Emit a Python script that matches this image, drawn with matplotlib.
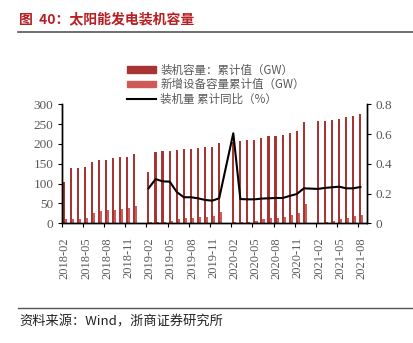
import numpy as np
import pandas as pd
import matplotlib
matplotlib.use("Agg")
import matplotlib.pyplot as plt
from matplotlib.patches import Patch
from matplotlib.lines import Line2D

plt.rcParams['font.family'] = ['Liberation Serif', 'Noto Sans CJK SC']

# months 2018-02 .. 2021-08 (January has no data)
months = [p.strftime('%Y-%m') for p in pd.period_range('2018-02', '2021-08', freq='M')]
nan = np.nan

cum_capacity = [104, 138.5, 140, 142, 154, 159.5, 160, 164, 166, 168, 174.5,
                nan,
                130, 180, 181, 182.5, 185, 187.5, 188.5, 190, 192, 193, 203,
                nan,
                206, 208.5, 209, 211, 216, 219, 220, 223.5, 227.5, 232, 254.5,
                nan,
                257, 259, 260.5, 263, 268, 271.5, 275]
new_capacity = [10, 10, 12, 14, 26, 31, 33, 34, 36, 38, 44,
                nan,
                2.5, 4.5, 4.5, 7, 11, 12.5, 14.5, 16, 17, 18.5, 28,
                nan,
                2, 4, 4, 7, 11.5, 12.6, 14.3, 16.8, 21, 25.2, 48.5,
                nan,
                1.7, 4, 6.7, 10, 14.3, 18.5, 21]
yoy = [nan] * 11 + [nan,
       0.235, 0.297, 0.282, 0.28, 0.21, 0.175, 0.175, 0.168, 0.157, 0.152, 0.168,
       nan,
       0.605, 0.163, 0.161, 0.161, 0.166, 0.168, 0.170, 0.170, 0.184, 0.197, 0.235,
       nan,
       0.231, 0.238, 0.242, 0.246, 0.235, 0.235, 0.244]

labels = ['装机容量：累计值（GW）', '新增设备容量累计值（GW）', '装机量 累计同比（%）']
c_dark = '#A93434'
c_light = '#CC5B59'
gray = '#595959'

fig = plt.figure(figsize=(4.13, 3.43), dpi=100)
ax = fig.add_axes([0.1494, 0.349, 0.7386, 0.347])
ax2 = ax.twinx()

x = np.arange(len(months))
w = 0.3
ax.bar(x + 0.28, cum_capacity, width=w, color=c_dark, linewidth=0)
ax.bar(x + 0.58, new_capacity, width=w, color=c_light, linewidth=0)

yoy_s = pd.Series(yoy, index=x + 0.3).dropna()
ax2.plot(yoy_s.index, yoy_s.values, color='black', lw=1.5)

ax.set_xlim(0, len(months) + 0.2)
ax.set_ylim(0, 300)
ax2.set_ylim(0, 0.8)
ax.set_yticks(range(0, 301, 50))
ax2.set_yticks([0, 0.2, 0.4, 0.6, 0.8])
ax2.set_yticklabels(['0', '0.2', '0.4', '0.6', '0.8'])

tick_idx = x[::3]
ax.set_xticks(tick_idx)
ax.set_xticklabels([])
ax.set_xticks(tick_idx + 0.45, minor=True)
ax.set_xticklabels([months[i] for i in tick_idx], minor=True, rotation=90)
ax.tick_params(axis='x', which='minor', length=0, pad=10, labelsize=9, labelcolor=gray)
ax.tick_params(axis='x', which='major', length=3, direction='out')
ax.tick_params(axis='y', length=3, labelsize=9.5, labelcolor=gray, pad=3)
ax2.tick_params(axis='y', length=3, labelsize=9.5, labelcolor=gray, pad=3)

for a in (ax, ax2):
    a.spines['top'].set_visible(False)
    for s in ('left', 'right', 'bottom'):
        a.spines[s].set_linewidth(1.0)

handles = [Patch(color=c_dark), Patch(color=c_light), Line2D([], [], color='black', lw=1.5)]
fig.legend(handles, labels, loc='upper left', bbox_to_anchor=(0.3075, 0.815),
           frameon=False, borderpad=0, borderaxespad=0, handlelength=2.5,
           handleheight=0.5, handletextpad=0.4, labelspacing=0.15,
           prop={'family': 'Noto Sans CJK SC', 'size': 8.3}, labelcolor=gray)

fig.text(0.046, 0.944, '图  40：太阳能发电装机容量', color='#B81E22', fontsize=10,
         fontweight='bold', family='Noto Sans CJK SC', va='center')
fig.add_artist(Line2D([0.044, 1.0], [0.907, 0.907], color='#555555', lw=1.2))
fig.add_artist(Line2D([0.044, 1.0], [0.101, 0.101], color='#555555', lw=1.0))
fig.text(0.048, 0.062, '资料来源：Wind，浙商证券研究所', color='#222222', fontsize=9.5,
         family=['Noto Sans CJK SC'], va='center')

fig.savefig('out.png', dpi=100)
